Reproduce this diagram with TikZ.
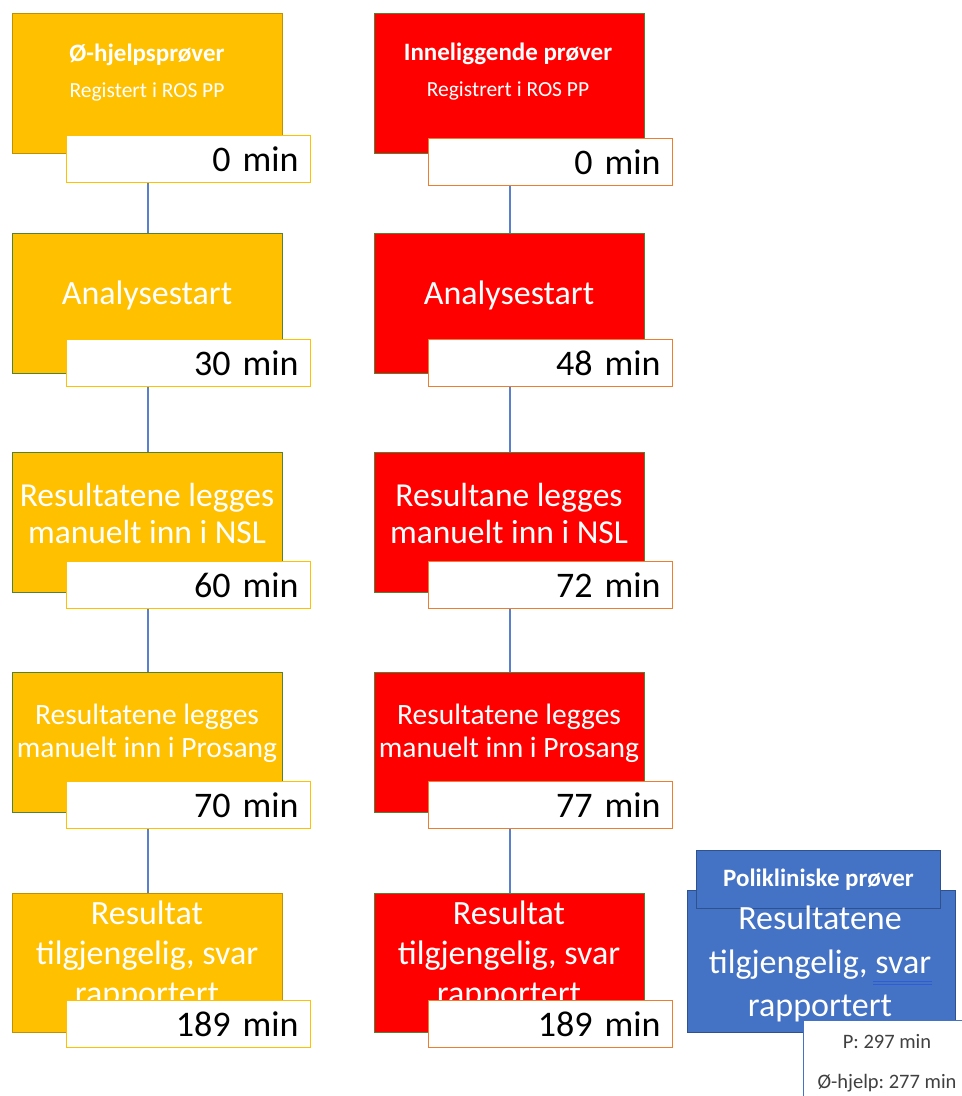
\documentclass[tikz,border=0pt]{standalone}
\usepackage{fontspec}
\setmainfont{Carlito}
\frenchspacing
\definecolor{orgfill}{HTML}{FFC000}
\definecolor{orgedge}{HTML}{BF9000}
\definecolor{grnedge}{HTML}{548235}
\definecolor{redfill}{HTML}{FF0000}
\definecolor{labL}{HTML}{FFC000}
\definecolor{labR}{HTML}{ED7D31}
\definecolor{bluefill}{HTML}{4472C4}
\definecolor{blueedge}{HTML}{2F528F}
\definecolor{connc}{HTML}{5A80CC}
\definecolor{spell}{HTML}{2E5BD6}
\definecolor{greytext}{HTML}{404040}
\begin{document}
\begin{tikzpicture}[x=1pt,y=-1pt,
  stepbox/.style={line width=1pt, anchor=north west, minimum width=270pt, minimum height=140pt, inner sep=0pt},
  obox/.style={stepbox, fill=orgfill, draw=#1},
  rbox/.style={stepbox, fill=redfill, draw=grnedge},
  lab/.style={draw=#1, line width=1.2pt, fill=white, anchor=north west, minimum width=244pt, minimum height=47pt, inner xsep=0pt, inner ysep=0pt, text width=220pt, align=right, font=\fontsize{36}{40}\selectfont, text=black},
  wt/.style={text=white, align=center, inner sep=0pt},
  conn/.style={color=connc, line width=2pt}
]
\useasboundingbox (0,0) rectangle (962,1096);
\clip (0,0) rectangle (962,1096);

% ---------- left column ----------
\node[obox=orgedge] (L1) at (12,13) {};
\node[wt, font=\bfseries\fontsize{25}{28}\selectfont] (L1a) at (147,55) {Ø-hjelpsprøver};
\node[wt, font=\fontsize{21.5}{24}\selectfont] (L1b) at (147,92) {Registert i ROS PP};
\node[lab=labL] (Lt1) at (66,135) {0 min};

\node[obox=grnedge] (L2) at (12,233) {};
\node[wt, font=\fontsize{34}{40}\selectfont] (L2a) at (147,295) {Analysestart};
\node[lab=labL] (Lt2) at (66,339) {30 min};

\node[obox=grnedge] (L3) at (12,452) {};
\node[wt, font=\fontsize{33.5}{37}\selectfont] (L3a) at (147,513) {Resultatene legges\\manuelt inn i NSL};
\node[lab=labL] (Lt3) at (66,561) {60 min};

\node[obox=grnedge] (L4) at (12,672) {};
\node[wt, font=\fontsize{29.5}{33}\selectfont] (L4a) at (147,733) {Resultatene legges\\manuelt inn i Prosang};
\node[lab=labL] (Lt4) at (66,781) {70 min};

\node[obox=orgedge, minimum height=139pt] (L5) at (12,893) {};
\node[wt, font=\fontsize{34}{40}\selectfont] (L5a) at (147,955) {Resultat\\tilgjengelig, svar\\rapportert};
\node[lab=labL] (Lt5) at (66,1000) {189 min};

% ---------- right column ----------
\node[rbox] (R1) at (374,13) {};
\node[wt, font=\bfseries\fontsize{25}{28}\selectfont] (R1a) at (508,54) {Inneliggende prøver};
\node[wt, font=\fontsize{21.5}{24}\selectfont] (R1b) at (508,91) {Registrert i ROS PP};
\node[lab=labR] (Rt1) at (428,138) {0 min};

\node[rbox] (R2) at (374,233) {};
\node[wt, font=\fontsize{34}{40}\selectfont] (R2a) at (509,295) {Analysestart};
\node[lab=labR] (Rt2) at (428,339) {48 min};

\node[rbox] (R3) at (374,452) {};
\node[wt, font=\fontsize{33.5}{37}\selectfont] (R3a) at (509,513) {Resultane legges\\manuelt inn i NSL};
\node[lab=labR] (Rt3) at (428,561) {72 min};

\node[rbox] (R4) at (374,672) {};
\node[wt, font=\fontsize{29.5}{33}\selectfont] (R4a) at (509,733) {Resultatene legges\\manuelt inn i Prosang};
\node[lab=labR] (Rt4) at (428,781) {77 min};

\node[rbox, minimum height=139pt] (R5) at (374,893) {};
\node[wt, font=\fontsize{34}{40}\selectfont] (R5a) at (509,955) {Resultat\\tilgjengelig, svar\\rapportert};
\node[lab=labR] (Rt5) at (428,1000) {189 min};

% ---------- connectors ----------
\draw[conn] (L2.north |- Lt1.south) -- (L2.north);
\draw[conn] (L3.north |- Lt2.south) -- (L3.north);
\draw[conn] (L4.north |- Lt3.south) -- (L4.north);
\draw[conn] (L5.north |- Lt4.south) -- (L5.north);
\draw[conn] (R2.north |- Rt1.south) -- (R2.north);
\draw[conn] (R3.north |- Rt2.south) -- (R3.north);
\draw[conn] (R4.north |- Rt3.south) -- (R4.north);
\draw[conn] (R5.north |- Rt4.south) -- (R5.north);

% ---------- blue group ----------
\node[fill=bluefill, draw=blueedge, line width=1pt, anchor=north west, minimum width=268pt, minimum height=142pt, inner sep=0pt] (B) at (687,890) {};
\node[fill=bluefill, draw=blueedge, line width=1pt, anchor=north west, minimum width=244pt, minimum height=58pt, inner sep=0pt] (Bt) at (696,850) {};
\node[wt, font=\bfseries\fontsize{25}{28}\selectfont] (Bta) at (Bt.center) {Polikliniske prøver};
\node[wt, font=\fontsize{34}{43.5}\selectfont] (Ba) at (820,964) {Resultatene\\tilgjengelig, svar\\rapportert};
\draw[spell, line width=0.9pt] (873,981.5) -- (932,981.5);
\draw[spell, line width=0.9pt] (873,984.5) -- (932,984.5);
\node[fill=white, draw=bluefill, line width=1pt, anchor=north west, minimum width=180pt, minimum height=90pt, inner sep=0pt] (W) at (803,1020) {};
\node[text=greytext, font=\fontsize{20.5}{23}\selectfont, inner sep=0pt] (Wa) at (887,1042) {P: 297 min};
\node[text=greytext, font=\fontsize{20.5}{23}\selectfont, inner sep=0pt] (Wb) at (887,1083) {Ø-hjelp: 277 min};
\end{tikzpicture}
\end{document}
